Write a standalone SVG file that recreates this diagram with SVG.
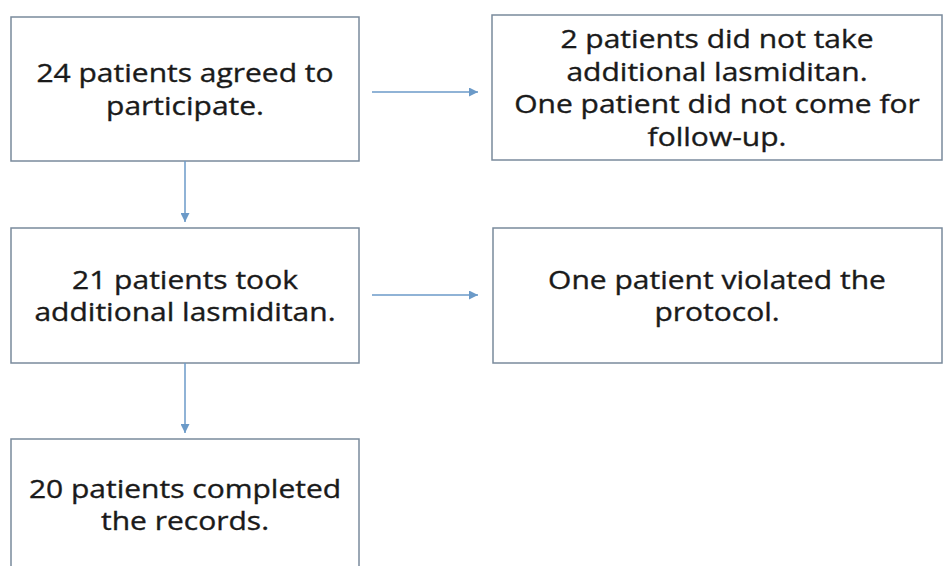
<svg xmlns="http://www.w3.org/2000/svg" width="944" height="566" viewBox="0 0 944 566">
<style>
.box{fill:#ffffff;stroke:#7a8a9c;stroke-width:1.5}
.t{font-family:"Open Sans","Liberation Sans",sans-serif;font-size:25px;fill:#1a1a1a;text-anchor:middle;stroke:#1a1a1a;stroke-width:0.35}
.c{stroke:#6b9ac8;stroke-width:1.5;fill:none}
</style>
<defs>
<marker id="ah" viewBox="0 0 10 10" refX="10" refY="5" markerWidth="9" markerHeight="9" orient="auto" markerUnits="userSpaceOnUse">
<path d="M0,0 L10,5 L0,10 Z" fill="#6b9ac8"/>
</marker>
</defs>
<rect width="944" height="566" fill="#ffffff"/>
<g id="n1"><rect class="box" x="11" y="17" width="348" height="144"/>
<g transform="translate(185,0) scale(1.2,1)">
<text class="t" x="0" y="82">24 patients agreed to</text>
<text class="t" x="0" y="115">participate.</text></g></g>
<g id="n2"><rect class="box" x="492" y="15" width="450" height="145"/>
<g transform="translate(717,0) scale(1.2,1)">
<text class="t" x="0" y="48">2 patients did not take</text>
<text class="t" x="0" y="81">additional lasmiditan.</text>
<text class="t" x="0" y="113">One patient did not come for</text>
<text class="t" x="0" y="146">follow-up.</text></g></g>
<g id="n3"><rect class="box" x="11" y="228" width="348" height="135"/>
<g transform="translate(185,0) scale(1.2,1)">
<text class="t" x="0" y="289">21 patients took</text>
<text class="t" x="0" y="321">additional lasmiditan.</text></g></g>
<g id="n4"><rect class="box" x="493" y="228" width="449" height="135"/>
<g transform="translate(717,0) scale(1.2,1)">
<text class="t" x="0" y="289">One patient violated the</text>
<text class="t" x="0" y="321">protocol.</text></g></g>
<g id="n5"><rect class="box" x="11" y="439" width="348" height="140"/>
<g transform="translate(185,0) scale(1.2,1)">
<text class="t" x="0" y="498">20 patients completed</text>
<text class="t" x="0" y="530">the records.</text></g></g>
<g id="connectors">
<line class="c" x1="185" y1="161" x2="185" y2="222" marker-end="url(#ah)"/>
<line class="c" x1="185" y1="363" x2="185" y2="433" marker-end="url(#ah)"/>
<line class="c" x1="372" y1="92" x2="478" y2="92" marker-end="url(#ah)"/>
<line class="c" x1="372" y1="295" x2="478" y2="295" marker-end="url(#ah)"/>
</g>
</svg>
